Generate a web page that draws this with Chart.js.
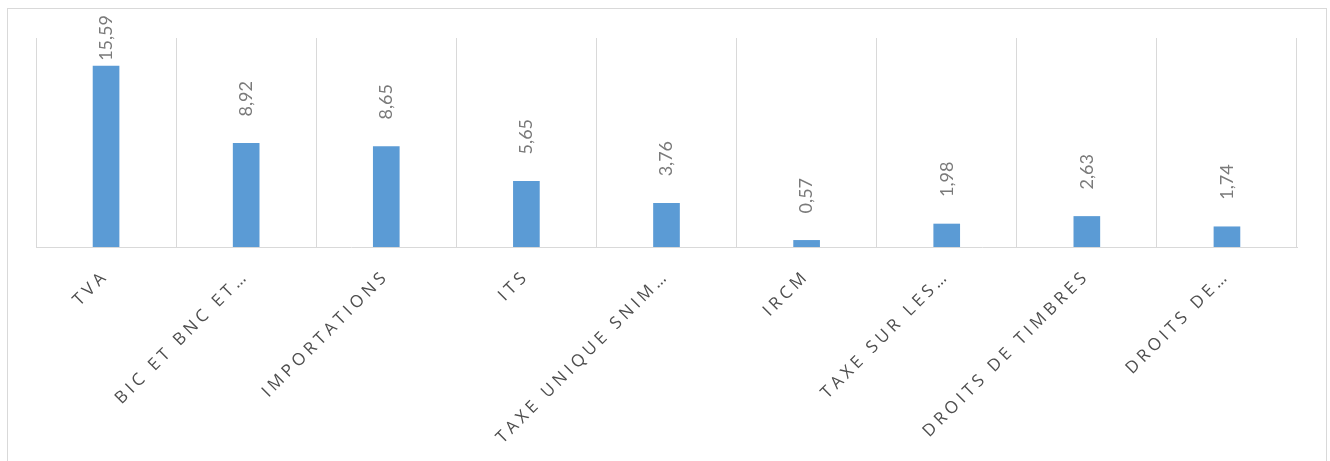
<!DOCTYPE html>
<html>
<head>
<meta charset="utf-8">
<script src="https://cdn.jsdelivr.net/npm/chart.js@4/dist/chart.umd.min.js"></script>
<style>
  html, body { margin: 0; padding: 0; background: #fff; }
</style>
</head>
<body>
<canvas id="chartbar" width="1330" height="461"></canvas>
<script>
const categories = ["TVA", "BIC ET BNC ET…", "IMPORTATIONS", "ITS", "TAXE UNIQUE SNIM…", "IRCM", "TAXE SUR LES…", "DROITS DE TIMBRES", "DROITS DE…"];
const values = [15.59, 8.92, 8.65, 5.65, 3.76, 0.57, 1.98, 2.63, 1.74];
const yMin = 0;
const yMax = 18;

const GRID = '#d9d9d9';

// outer frame + spaced capitals for the category axis
const frame = {
    id: 'frame',
    beforeDraw(chart) {
        const ctx = chart.ctx;
        ctx.save();
        ctx.strokeStyle = GRID;
        ctx.lineWidth = 1;
        ctx.strokeRect(7.5, 8.5, 1319, 480);
        ctx.restore();
        ctx.letterSpacing = '4px';
    },
    afterDraw(chart) {
        chart.ctx.letterSpacing = '0px';
    }
};

// vertical value labels above each bar, kept inside the frame
const valueLabels = {
    id: 'valueLabels',
    afterDatasetsDraw(chart) {
        const ctx = chart.ctx;
        const meta = chart.getDatasetMeta(0);
        ctx.save();
        ctx.letterSpacing = '0px';
        ctx.font = '18px Lato';
        ctx.fillStyle = '#7a7a7a';
        ctx.textAlign = 'left';
        ctx.textBaseline = 'middle';
        meta.data.forEach((bar, i) => {
            const txt = values[i].toFixed(2).replace('.', ',');
            const w = ctx.measureText(txt).width;
            const start = Math.max(bar.y - 27, 15 + w);
            ctx.save();
            ctx.translate(bar.x, start);
            ctx.rotate(-Math.PI / 2);
            ctx.fillText(txt, 0, 0);
            ctx.restore();
        });
        ctx.restore();
    }
};

const CHART = document.getElementById('chartbar');
let barChart = new Chart(CHART, {
    type: 'bar',
    data: {
        labels: categories,
        datasets: [{
            data: values,
            backgroundColor: '#5b9bd5',
            borderWidth: 0,
            barThickness: 26
        }]
    },
    options: {
        responsive: false,
        animation: false,
        layout: { padding: { top: 38, left: 36, right: 33, bottom: 0 } },
        plugins: { legend: { display: false }, tooltip: { enabled: false } },
        scales: {
            x: {
                grid: { color: GRID, lineWidth: 1, drawTicks: false, offset: true },
                border: { color: GRID, width: 1 },
                ticks: {
                    autoSkip: false,
                    maxRotation: 45,
                    minRotation: 45,
                    padding: 19,
                    color: '#4d4d4d',
                    font: { family: 'Open Sans', size: 17 }
                },
                afterFit(scale) { scale.height = 214; }
            },
            y: {
                display: false,
                min: yMin,
                max: yMax
            }
        }
    },
    plugins: [frame, valueLabels]
});
</script>
</body>
</html>
